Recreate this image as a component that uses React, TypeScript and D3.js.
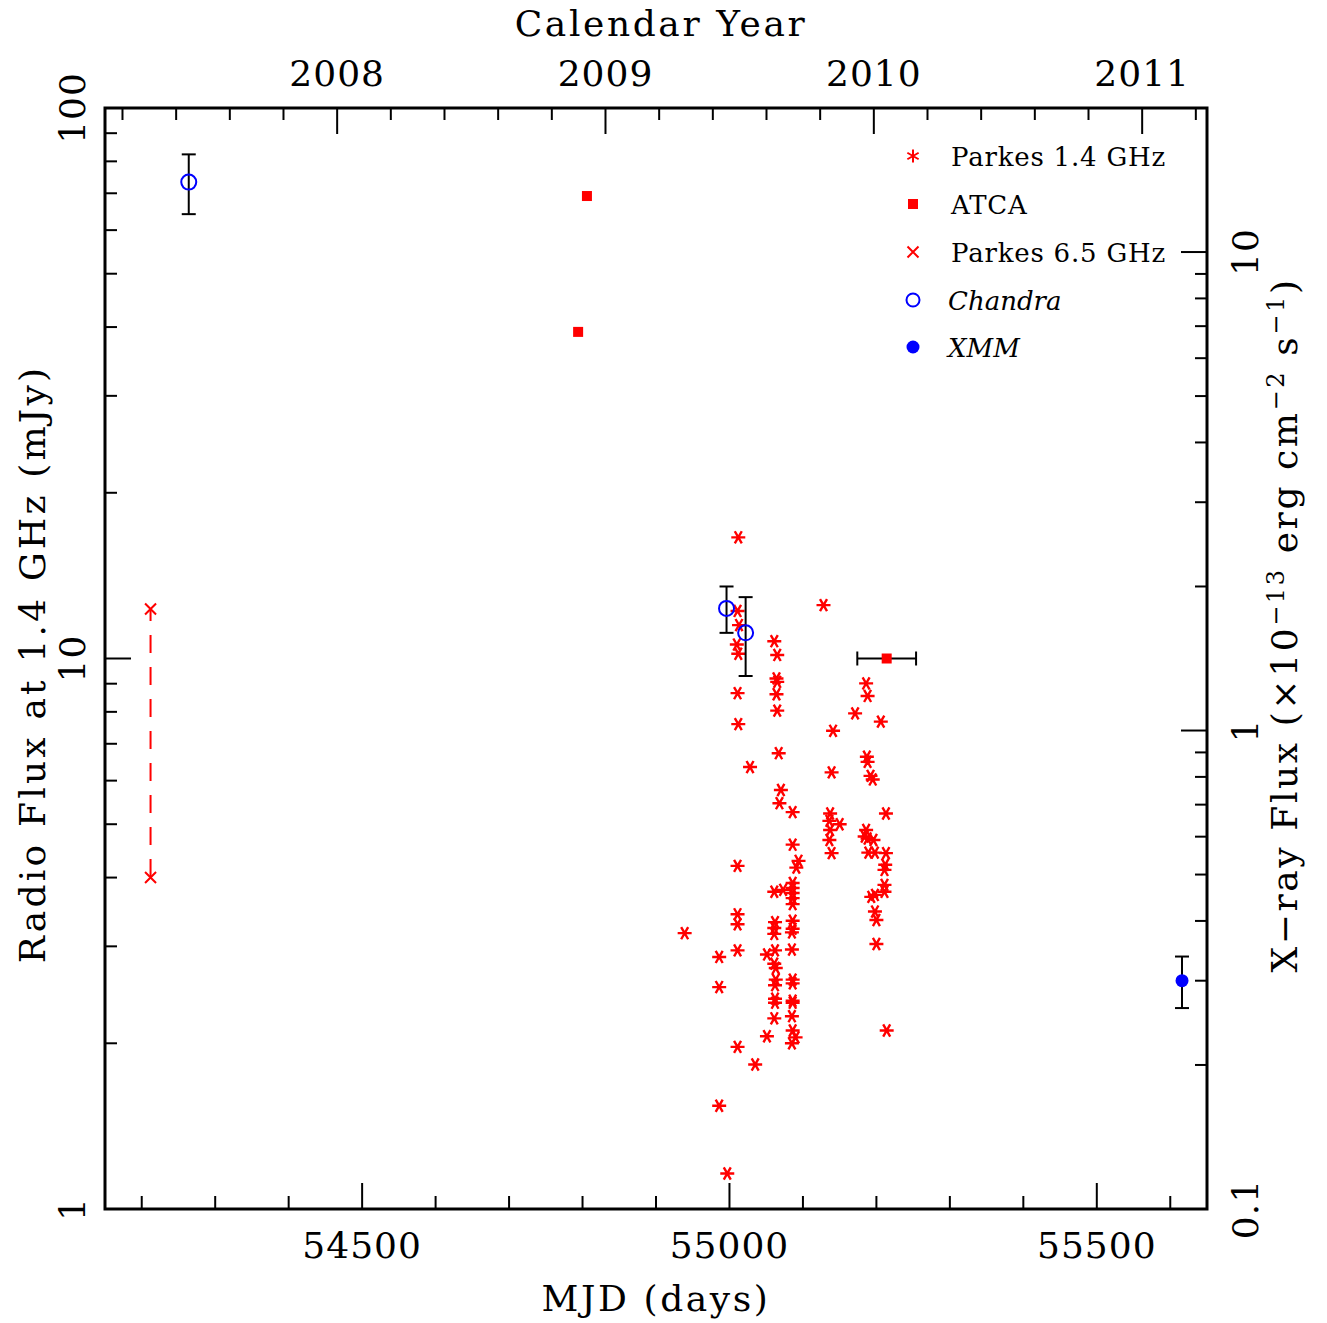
import React from 'react';
import * as d3 from 'd3';

// ---- data ----
// Parkes 1.4 GHz: [MJD, flux mJy]
const parkes14: [number, number][] = [
  [55012, 16.6], [55011, 12.2], [55013, 11.5], [55010, 10.6], [55012, 10.2],
  [55011, 8.65], [55012, 7.6], [55011, 4.2], [55011, 3.43], [55011, 3.29],
  [55011, 2.95], [55011, 1.97],
  [54939, 3.17], [54986, 2.87], [54986, 2.53], [54986, 1.54], [54997, 1.16],
  [55028, 6.35], [55035, 1.83], [55051, 2.9], [55051, 2.06],
  [55061, 10.75], [55065, 10.15], [55064, 9.2], [55065, 9.07], [55064, 8.61],
  [55065, 8.04], [55067, 6.73], [55070, 5.77], [55068, 5.46], [55061, 3.77],
  [55073, 3.8], [55062, 3.32], [55061, 3.24], [55061, 3.16], [55062, 2.95],
  [55061, 2.79], [55063, 2.74], [55063, 2.61], [55062, 2.55], [55062, 2.41],
  [55062, 2.37], [55061, 2.22],
  [55086, 5.26], [55086, 4.59], [55094, 4.29], [55091, 4.17], [55086, 3.91],
  [55086, 3.83], [55086, 3.75], [55086, 3.67], [55086, 3.58], [55086, 3.34],
  [55086, 3.23], [55085, 3.18], [55085, 2.96], [55086, 2.61], [55086, 2.57],
  [55086, 2.39], [55086, 2.37], [55085, 2.24], [55086, 2.11], [55090, 2.05],
  [55085, 2.0],
  [55128, 12.5], [55141, 7.39], [55139, 6.21], [55137, 5.23], [55136, 5.07],
  [55150, 5.0], [55137, 4.88], [55136, 4.68], [55139, 4.43],
  [55171, 7.95], [55186, 9.01], [55188, 8.55], [55206, 7.68], [55187, 6.63],
  [55188, 6.49], [55192, 6.12], [55195, 6.03], [55213, 5.23], [55186, 4.88],
  [55184, 4.75], [55188, 4.71], [55196, 4.68], [55189, 4.44], [55198, 4.44],
  [55213, 4.43], [55212, 4.22], [55211, 4.13], [55211, 3.88], [55211, 3.77],
  [55198, 3.72], [55193, 3.69], [55198, 3.47], [55200, 3.35], [55200, 3.03],
  [55214, 2.11],
];

// ATCA: [MJD, flux mJy, MJD half-width]
const atca: [number, number, number][] = [
  [54806, 69.2, 0], [54794, 39.2, 0], [55214, 10.0, 40],
];

// Parkes 6.5 GHz: [MJD, flux mJy]
const parkes65: [number, number][] = [[54212, 12.3], [54212, 4.0]];

// Chandra and XMM: [MJD, flux 1e-13 cgs, error]
const chandra: [number, number, number][] = [
  [54264, 14.0, 2.0], [54996, 1.8, 0.2], [55022, 1.6, 0.3],
];
const xmm: [number, number, number][] = [[55616, 0.3, 0.037]];

const mjdTickLabels = [54500, 55000, 55500];
const yearTickLabels = [2008, 2009, 2010, 2011];
const radioTickLabels = [1, 10, 100];
const xrayTickLabels = [0.1, 1, 10];

const legendItems = ['Parkes 1.4 GHz', 'ATCA', 'Parkes 6.5 GHz', 'Chandra', 'XMM'];

// ---- layout ----
const W = 1327, H = 1323;
const L = 105, T = 108, R = 1207, B = 1209;
const FONT = '"DejaVu Serif", serif';
const RED = '#ff0000';
const BLUE = '#0000ff';

const mjdToYear = (m: number) => 2008 + (m - 54466) / 365.25;

const x = d3.scaleLinear().domain([54150, 55650]).range([L, R]);
const xYear = d3.scaleLinear().domain([mjdToYear(54150), mjdToYear(55650)]).range([L, R]);
const yRadio = d3.scaleLog().domain([1, 100]).range([B, T]);
const yXray = d3.scaleLog().domain([0.1, 20]).range([B, T]);

const star = (r: number) => {
  const s = r * Math.sin(Math.PI / 3), c = r * Math.cos(Math.PI / 3);
  return `M${-r},0H${r}M${-c},${-s}L${c},${s}M${c},${-s}L${-c},${s}`;
};
const starV = (r: number) => {
  const s = r * Math.sin(Math.PI / 3), c = r * Math.cos(Math.PI / 3);
  return `M0,${-r}V${r}M${-s},${-c}L${s},${c}M${s},${-c}L${-s},${c}`;
};
const cross = (r: number) => `M${-r},${-r}L${r},${r}M${r},${-r}L${-r},${r}`;

function logTicks(lo: number, hi: number) {
  const out: { v: number; major: boolean }[] = [];
  for (let e = Math.floor(Math.log10(lo)); e <= Math.ceil(Math.log10(hi)); e++) {
    for (let k = 1; k <= 9; k++) {
      const v = k * Math.pow(10, e);
      if (v >= lo * 0.999 && v <= hi * 1.001) out.push({ v, major: k === 1 });
    }
  }
  return out;
}

export default function App() {
  const mjdTicks = d3.range(54200, 55650, 100);
  const yearTicks = d3.range(2007.2, 2011.3, 0.2).map((v) => Math.round(v * 10) / 10);
  const radioTicks = logTicks(1, 100);
  const xrayTicks = logTicks(0.1, 20);
  const legendY = [156, 204, 252, 300, 347];
  const lx = 913;

  return (
    <div style={{ position: 'absolute', left: 0, top: 0 }}>
      <svg width={W} height={H} style={{ display: 'block', background: '#fff' }}>
        {/* ticks */}
        <g stroke="#000" strokeWidth={2}>
          {mjdTicks.map((m) => {
            const major = m % 500 === 0;
            return <line key={'b' + m} x1={x(m)} x2={x(m)} y1={B} y2={B - (major ? 26 : 13)} />;
          })}
          {yearTicks.map((yv) => {
            const major = Math.abs(yv - Math.round(yv)) < 1e-6;
            return <line key={'t' + yv} x1={xYear(yv)} x2={xYear(yv)} y1={T} y2={T + (major ? 26 : 12)} />;
          })}
          {radioTicks.map((t) => (
            <line key={'l' + t.v} x1={L} x2={L + (t.major ? 26 : 12)} y1={yRadio(t.v)} y2={yRadio(t.v)} />
          ))}
          {xrayTicks.map((t) => (
            <line key={'r' + t.v} x1={R} x2={R - (t.major ? 26 : 12)} y1={yXray(t.v)} y2={yXray(t.v)} />
          ))}
        </g>
        <rect x={L} y={T} width={R - L} height={B - T} fill="none" stroke="#000" strokeWidth={3} />

        {/* tick labels */}
        <g fontFamily={FONT} fontSize={36} fill="#000" letterSpacing={1}>
          {mjdTickLabels.map((m) => (
            <text key={'bl' + m} x={x(m)} y={1258} textAnchor="middle">{m}</text>
          ))}
          {yearTickLabels.map((yv) => (
            <text key={'tl' + yv} x={xYear(yv)} y={86} textAnchor="middle">{yv}</text>
          ))}
          {radioTickLabels.map((v) => (
            <text key={'ll' + v} transform={`translate(85,${yRadio(v)}) rotate(-90)`} textAnchor="middle">{v}</text>
          ))}
          {xrayTickLabels.map((v) => (
            <text key={'rl' + v} transform={`translate(1258,${yXray(v)}) rotate(-90)`} textAnchor="middle">{v}</text>
          ))}
        </g>

        {/* axis titles */}
        <g fontFamily={FONT} fontSize={36} fill="#000" letterSpacing={2.6}>
          <text x={656} y={1311} textAnchor="middle">MJD (days)</text>
          <text x={661} y={36} textAnchor="middle">Calendar Year</text>
          <text transform="translate(45,664) rotate(-90)" textAnchor="middle" letterSpacing={3.2}>Radio Flux at 1.4 GHz (mJy)</text>
          <text transform="translate(1297,625) rotate(-90)" textAnchor="middle">
            X{'\u2212'}ray Flux ({'\u00d7'}10
            <tspan fontSize={24} dy={-13}>{'\u2212'}13</tspan>
            <tspan dy={13}> erg cm</tspan>
            <tspan fontSize={24} dy={-13}>{'\u2212'}2</tspan>
            <tspan dy={13}> s</tspan>
            <tspan fontSize={24} dy={-13}>{'\u2212'}1</tspan>
            <tspan dy={13}>)</tspan>
          </text>
        </g>

        {/* Parkes 6.5 GHz dashed range */}
        <line
          x1={x(parkes65[0][0])} x2={x(parkes65[1][0])}
          y1={yRadio(parkes65[0][1])} y2={yRadio(parkes65[1][1])}
          stroke={RED} strokeWidth={2} strokeDasharray="18 14" strokeDashoffset={6}
        />
        {parkes65.map((d, i) => (
          <path key={'p65' + i} d={cross(5.5)} transform={`translate(${x(d[0])},${yRadio(d[1])})`}
            stroke={RED} strokeWidth={2} fill="none" />
        ))}

        {/* Parkes 1.4 GHz */}
        {parkes14.map((d, i) => (
          <path key={'p14' + i} d={star(7)} transform={`translate(${x(d[0])},${yRadio(d[1])})`}
            stroke={RED} strokeWidth={2.4} fill="none" />
        ))}

        {/* ATCA */}
        {atca.map((d, i) => (
          <g key={'atca' + i}>
            {d[2] > 0 && (
              <g stroke="#000" strokeWidth={2}>
                <line x1={x(d[0] - d[2])} x2={x(d[0] + d[2])} y1={yRadio(d[1])} y2={yRadio(d[1])} />
                <line x1={x(d[0] - d[2])} x2={x(d[0] - d[2])} y1={yRadio(d[1]) - 7} y2={yRadio(d[1]) + 7} />
                <line x1={x(d[0] + d[2])} x2={x(d[0] + d[2])} y1={yRadio(d[1]) - 7} y2={yRadio(d[1]) + 7} />
              </g>
            )}
            <rect x={x(d[0]) - 5} y={yRadio(d[1]) - 5} width={10} height={10} fill={RED} />
          </g>
        ))}

        {/* X-ray error bars */}
        <g stroke="#000" strokeWidth={2}>
          {[...chandra, ...xmm].map((d, i) => {
            const cx = x(d[0]);
            const y1 = yXray(d[1] + d[2]);
            const y2 = yXray(d[1] - d[2]);
            return (
              <g key={'eb' + i}>
                <line x1={cx} x2={cx} y1={y1} y2={y2} />
                <line x1={cx - 7} x2={cx + 7} y1={y1} y2={y1} />
                <line x1={cx - 7} x2={cx + 7} y1={y2} y2={y2} />
              </g>
            );
          })}
        </g>
        {chandra.map((d, i) => (
          <circle key={'ch' + i} cx={x(d[0])} cy={yXray(d[1])} r={7.5} fill="none" stroke={BLUE} strokeWidth={2} />
        ))}
        {xmm.map((d, i) => (
          <circle key={'xmm' + i} cx={x(d[0])} cy={yXray(d[1])} r={6.5} fill={BLUE} />
        ))}

        {/* legend */}
        <g>
          <path d={starV(6.5)} transform={`translate(${lx},${legendY[0]})`} stroke={RED} strokeWidth={2} fill="none" />
          <rect x={lx - 5} y={legendY[1] - 5} width={10} height={10} fill={RED} />
          <path d={cross(5.5)} transform={`translate(${lx},${legendY[2]})`} stroke={RED} strokeWidth={2} fill="none" />
          <circle cx={lx} cy={legendY[3]} r={6.5} fill="none" stroke={BLUE} strokeWidth={2} />
          <circle cx={lx} cy={legendY[4]} r={6.5} fill={BLUE} />
        </g>
        <g fontFamily={FONT} fontSize={26} fill="#000">
          {legendItems.map((t, i) => (
            <text key={t} x={i >= 3 ? 948 : 951} y={legendY[i] + 9.5}
              fontStyle={i >= 3 ? 'italic' : 'normal'} letterSpacing={i >= 3 ? 0 : 0.8}>{t}</text>
          ))}
        </g>
      </svg>
    </div>
  );
}
